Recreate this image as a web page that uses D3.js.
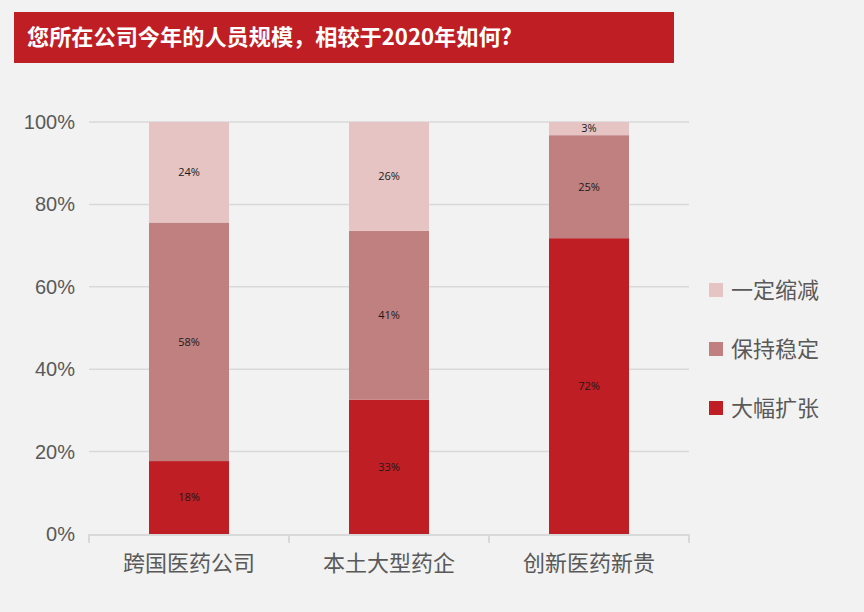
<!DOCTYPE html>
<html><head><meta charset="utf-8">
<script src="https://cdn.jsdelivr.net/npm/d3@7"></script>
<style>
html,body{margin:0;padding:0;background:#F2F2F2;}
svg{display:block;}
</style></head>
<body>
<svg id="chart" width="864" height="612"></svg>
<script>
const title = "您所在公司今年的人员规模，相较于2020年如何?";
const categories = ["跨国医药公司", "本土大型药企", "创新医药新贵"];
const seriesNames = ["大幅扩张", "保持稳定", "一定缩减"];
const expand = [17.7, 32.6, 71.8];
const stable = [57.9, 41.0, 25.0];
const shrink = [24.4, 26.4, 3.2];
const yTicks = [0, 20, 40, 60, 80, 100];
const colors = ["#BE1E24", "#C08080", "#E5C4C3"];

const svg = d3.select("#chart");
svg.append("rect").attr("width", 864).attr("height", 612).attr("fill", "#F2F2F2");

// title banner
svg.append("rect").attr("x", 14).attr("y", 12).attr("width", 660).attr("height", 51).attr("fill", "#BE1E24");
svg.append("text").attr("x", 27).attr("y", 45).attr("fill", "#fff")
  .attr("font-family", "'Noto Sans CJK SC', sans-serif").attr("font-weight", "bold").attr("font-size", 22)
  .attr("textLength", 485).attr("lengthAdjust", "spacingAndGlyphs")
  .text(title);

const m = {left: 89, right: 689, top: 122, bottom: 534};
const x = d3.scaleBand().domain(categories).range([m.left, m.right]).paddingInner(0.6).paddingOuter(0.3);
const y = d3.scaleLinear().domain([0, 100]).range([m.bottom, m.top]);

// gridlines
svg.append("g").selectAll("line").data(yTicks.filter(d => d > 0)).join("line")
  .attr("x1", m.left).attr("x2", m.right)
  .attr("y1", d => y(d)).attr("y2", d => y(d))
  .attr("stroke", "#D9D9D9").attr("stroke-width", 1.5);

// y labels
svg.append("g").selectAll("text").data(yTicks).join("text")
  .attr("x", 75).attr("y", d => y(d)).attr("dy", "0.35em")
  .attr("text-anchor", "end").attr("fill", "#595959")
  .attr("font-family", "'Liberation Sans Narrow', 'Liberation Sans', sans-serif").attr("font-size", 20)
  .text(d => d + "%");

// stacked data
const rows = categories.map((c, i) => ({cat: c, "大幅扩张": expand[i], "保持稳定": stable[i], "一定缩减": shrink[i]}));
const stack = d3.stack().keys(seriesNames)(rows);

const g = svg.append("g");
stack.forEach((layer, li) => {
  g.selectAll(null).data(layer).join("rect")
    .attr("x", d => x(d.data.cat)).attr("width", x.bandwidth())
    .attr("y", d => y(d[1])).attr("height", d => y(d[0]) - y(d[1]))
    .attr("fill", colors[li]);
  g.selectAll(null).data(layer).join("text")
    .attr("x", d => x(d.data.cat) + x.bandwidth() / 2)
    .attr("y", d => (y(d[0]) + y(d[1])) / 2).attr("dy", "0.35em")
    .attr("text-anchor", "middle").attr("fill", "#1a1a1a")
    .attr("font-family", "'Open Sans', 'DejaVu Sans', sans-serif").attr("font-size", 11)
    .text(d => Math.round(d[1] - d[0]) + "%");
});

// x axis
const xa = svg.append("g");
xa.append("line").attr("x1", m.left).attr("x2", m.right).attr("y1", m.bottom + 1).attr("y2", m.bottom + 1)
  .attr("stroke", "#D9D9D9").attr("stroke-width", 2);
const bounds = [m.left].concat(categories.map(c => x(c) + x.bandwidth() / 2 + x.step() / 2));
xa.selectAll("line.tk").data(bounds).join("line").attr("class", "tk")
  .attr("x1", d => d).attr("x2", d => d).attr("y1", m.bottom).attr("y2", m.bottom + 9)
  .attr("stroke", "#D9D9D9").attr("stroke-width", 2);
xa.selectAll("text").data(categories).join("text")
  .attr("x", d => x(d) + x.bandwidth() / 2).attr("y", 563).attr("dy", "0.35em")
  .attr("text-anchor", "middle").attr("fill", "#595959")
  .attr("font-family", "'Noto Sans CJK SC', sans-serif").attr("font-size", 22)
  .text(d => d);

// legend
const legendOrder = [2, 1, 0];
const lg = svg.append("g");
legendOrder.forEach((si, i) => {
  const cy = 290 + i * 59;
  lg.append("rect").attr("x", 709).attr("y", cy - 7).attr("width", 14).attr("height", 14).attr("fill", colors[si]);
  lg.append("text").attr("x", 731).attr("y", cy).attr("dy", "0.35em").attr("fill", "#595959")
    .attr("font-family", "'Noto Sans CJK SC', sans-serif").attr("font-size", 22)
    .text(seriesNames[si]);
});
</script>
</body></html>
